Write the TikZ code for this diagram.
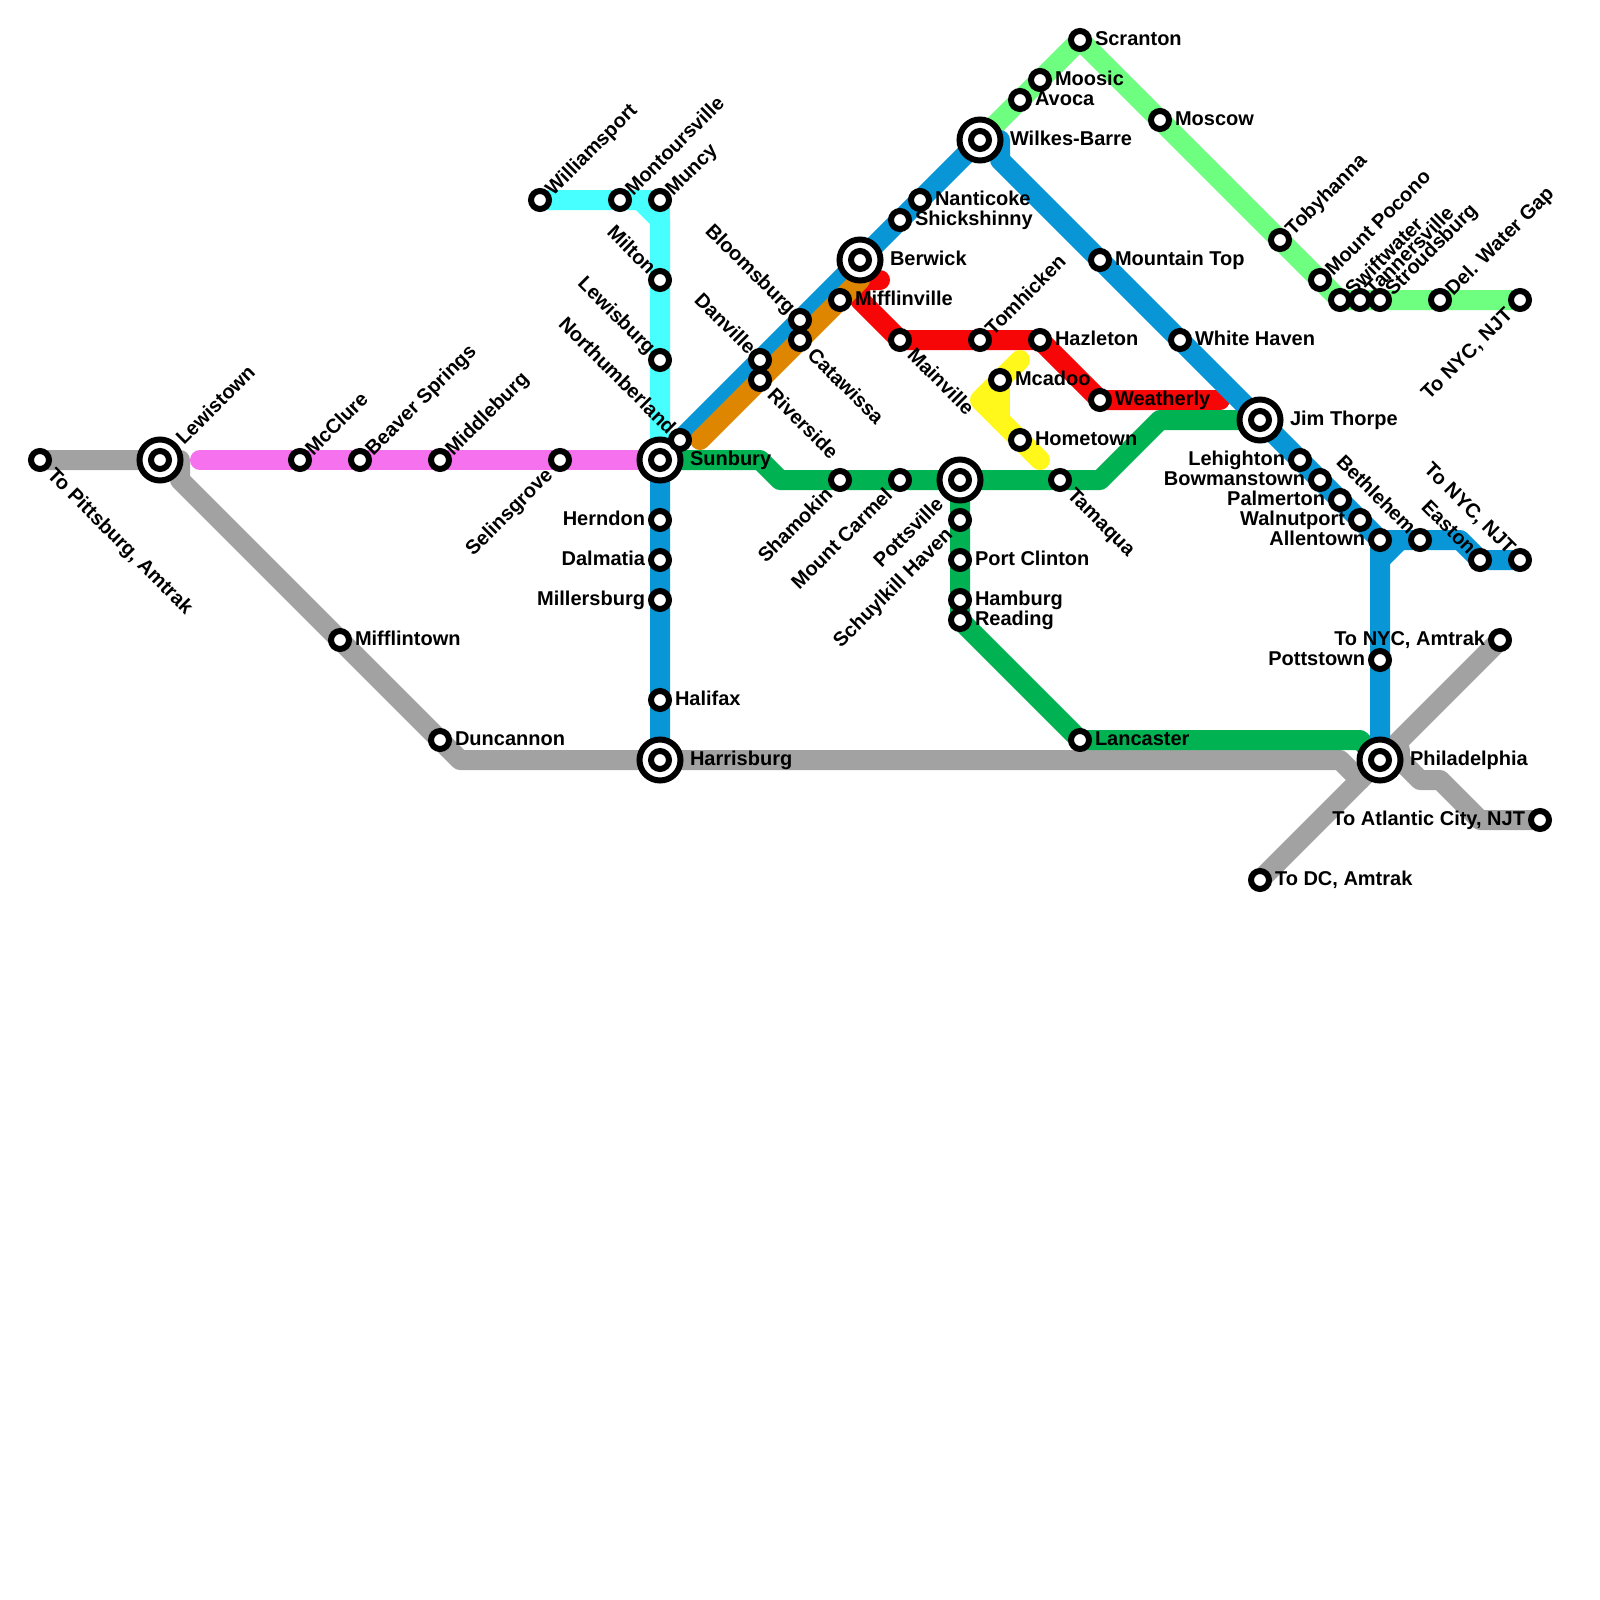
\documentclass[tikz,border=0pt]{standalone}
\usepackage{fontspec}
\setmainfont{Liberation Sans}
\pgfdeclarelayer{lines}
\pgfsetlayers{lines,main}
\definecolor{mgray}{HTML}{A2A2A2}
\definecolor{mpink}{HTML}{F571EE}
\definecolor{mcyan}{HTML}{47FFFF}
\definecolor{mred}{HTML}{F60606}
\definecolor{morange}{HTML}{DF8600}
\definecolor{myellow}{HTML}{FFF81A}
\definecolor{mlgreen}{HTML}{6EFF80}
\definecolor{mgreen}{HTML}{00B251}
\definecolor{mblue}{HTML}{0896D7}
\tikzset{
  x=1pt,y=-1pt,
  stn/.style={circle,draw=black,fill=white,line width=6pt,inner sep=0pt,minimum size=18pt},
  hub/.style={circle,draw=black,fill=white,line width=6pt,inner sep=0pt,minimum size=41pt,
    path picture={\draw[black,line width=6pt] (path picture bounding box.center) circle[radius=9pt];}},
  ln/.style={line width=20pt,line cap=round,line join=round},
  lab/.style={inner sep=0pt,outer sep=0pt,font=\fontsize{20}{20}\selectfont\bfseries,text=black},
  R/.style={lab,anchor=base west,xshift=15pt,yshift=-5.8pt},
  L/.style={lab,anchor=base east,xshift=-15pt,yshift=-5.8pt},
  UR/.style={lab,rotate=45,anchor=base west,xshift=12pt,yshift=-7pt},
  DR/.style={lab,rotate=-45,anchor=base west,xshift=16pt,yshift=-7pt},
  UL/.style={lab,rotate=-45,anchor=base east,xshift=-12pt,yshift=-5.5pt},
  LL/.style={lab,rotate=45,anchor=base east,xshift=-16pt,yshift=-7pt},
  HR/.style={lab,anchor=base west,xshift=30pt,yshift=-5.8pt},
  HUR/.style={lab,rotate=45,anchor=base west,xshift=27pt,yshift=-7pt},
  HLL/.style={lab,rotate=45,anchor=base east,xshift=-29pt,yshift=-7pt},
}
\newcommand{\St}[5]{\node[stn] (#1) at (#2,#3) {}; \node[#4] (#1-t) at (#1.center) {#5};}
\newcommand{\Hb}[5]{\node[hub] (#1) at (#2,#3) {}; \node[#4] (#1-t) at (#1.center) {#5};}
\begin{document}
\begin{tikzpicture}
\useasboundingbox (0,0) rectangle (1600,1600);
\begin{pgfonlayer}{lines}\fill[white] (0,0) rectangle (1600,1600);\end{pgfonlayer}
% interchanges
\Hb{lewistown}{160}{460}{HUR}{Lewistown}
\Hb{sunbury}{660}{460}{HR}{Sunbury}
\Hb{harrisburg}{660}{760}{HR}{Harrisburg}
\Hb{berwick}{860}{260}{HR}{Berwick}
\Hb{wilkes}{980}{140}{HR}{Wilkes-Barre}
\Hb{pottsville}{960}{480}{HLL}{Pottsville}
\Hb{jimthorpe}{1260}{420}{HR}{Jim Thorpe}
\Hb{phila}{1380}{760}{HR}{Philadelphia}
% stations
\St{pittsburg}{40}{460}{DR}{To Pittsburg, Amtrak}
\St{mcclure}{300}{460}{UR}{McClure}
\St{beaver}{360}{460}{UR}{Beaver Springs}
\St{middleburg}{440}{460}{UR}{Middleburg}
\St{selinsgrove}{560}{460}{LL}{Selinsgrove}
\St{mifflintown}{340}{640}{R}{Mifflintown}
\St{duncannon}{440}{740}{R}{Duncannon}
\St{williamsport}{540}{200}{UR}{Williamsport}
\St{montoursville}{620}{200}{UR}{Montoursville}
\St{muncy}{660}{200}{UR}{Muncy}
\St{milton}{660}{280}{UL}{Milton}
\St{lewisburg}{660}{360}{UL}{Lewisburg}
\St{northumberland}{680}{440}{UL}{Northumberland}
\St{herndon}{660}{520}{L}{Herndon}
\St{dalmatia}{660}{560}{L}{Dalmatia}
\St{millersburg}{660}{600}{L}{Millersburg}
\St{halifax}{660}{700}{R}{Halifax}
\St{danville}{760}{360}{UL}{Danville}
\St{riverside}{760}{380}{DR}{Riverside}
\St{bloomsburg}{800}{320}{UL}{Bloomsburg}
\St{catawissa}{800}{340}{DR}{Catawissa}
\St{mifflinville}{840}{300}{R}{Mifflinville}
\St{shickshinny}{900}{220}{R}{Shickshinny}
\St{nanticoke}{920}{200}{R}{Nanticoke}
\St{avoca}{1020}{100}{R}{Avoca}
\St{moosic}{1040}{80}{R}{Moosic}
\St{scranton}{1080}{40}{R}{Scranton}
\St{moscow}{1160}{120}{R}{Moscow}
\St{mountaintop}{1100}{260}{R}{Mountain Top}
\St{whitehaven}{1180}{340}{R}{White Haven}
\St{mainville}{900}{340}{DR}{Mainville}
\St{tomhicken}{980}{340}{UR}{Tomhicken}
\St{hazleton}{1040}{340}{R}{Hazleton}
\St{mcadoo}{1000}{380}{R}{Mcadoo}
\St{hometown}{1020}{440}{R}{Hometown}
\St{weatherly}{1100}{400}{R}{Weatherly}
\St{shamokin}{840}{480}{LL}{Shamokin}
\St{mountcarmel}{900}{480}{LL}{Mount Carmel}
\St{tamaqua}{1060}{480}{DR}{Tamaqua}
\St{schuylkill}{960}{520}{LL}{Schuylkill Haven}
\St{portclinton}{960}{560}{R}{Port Clinton}
\St{hamburg}{960}{600}{R}{Hamburg}
\St{reading}{960}{620}{R}{Reading}
\St{lancaster}{1080}{740}{R}{Lancaster}
\St{tobyhanna}{1280}{240}{UR}{Tobyhanna}
\St{mountpocono}{1320}{280}{UR}{Mount Pocono}
\St{swiftwater}{1340}{300}{UR}{Swiftwater}
\St{tannersville}{1360}{300}{UR}{Tannersville}
\St{stroudsburg}{1380}{300}{UR}{Stroudsburg}
\St{delwater}{1440}{300}{UR}{Del. Water Gap}
\St{nycnjtn}{1520}{300}{LL}{To NYC, NJT}
\St{lehighton}{1300}{460}{L}{Lehighton}
\St{bowmanstown}{1320}{480}{L}{Bowmanstown}
\St{palmerton}{1340}{500}{L}{Palmerton}
\St{walnutport}{1360}{520}{L}{Walnutport}
\St{allentown}{1380}{540}{L}{Allentown}
\St{bethlehem}{1420}{540}{UL}{Bethlehem}
\St{easton}{1480}{560}{UL}{Easton}
\St{nycnjts}{1520}{560}{UL}{To NYC, NJT}
\St{nycamtrak}{1500}{640}{L}{To NYC, Amtrak}
\St{pottstown}{1380}{660}{L}{Pottstown}
\St{atlantic}{1540}{820}{L}{To Atlantic City, NJT}
\St{dc}{1260}{880}{R}{To DC, Amtrak}
% bends
\coordinate (a1) at (180,460);
\coordinate (a2) at (180,480);
\coordinate (a3) at (460,760);
\coordinate (a4) at (1340,760);
\coordinate (a5) at (1360,780);
\coordinate (a6) at (1400,760);
\coordinate (a7) at (1420,780);
\coordinate (a8) at (1440,780);
\coordinate (a9) at (1480,820);
\coordinate (a10) at (1400,750);
\coordinate (p1) at (200,460);
\coordinate (c1) at (640,200);
\coordinate (c2) at (660,220);
\coordinate (r1) at (880,280);
\coordinate (r2) at (860,280);
\coordinate (r3) at (860,300);
\coordinate (r4) at (1220,400);
\coordinate (o1) at (700,440);
\coordinate (o2) at (860,280);
\coordinate (y1) at (1020,360);
\coordinate (y2) at (980,400);
\coordinate (y3) at (1040,460);
\coordinate (y4) at (1000,420);
\coordinate (g1) at (760,460);
\coordinate (g2) at (780,480);
\coordinate (g3) at (1100,480);
\coordinate (g4) at (1160,420);
\coordinate (g5) at (1360,740);
\coordinate (b1) at (1000,140);
\coordinate (b2) at (1000,160);
\coordinate (b3) at (1460,540);
\coordinate (b4) at (1380,560);
\coordinate (b5) at (1400,540);
\begin{pgfonlayer}{lines}
\draw[ln,mgray] (pittsburg.center) -- (a1) -- (a2) -- (a3) -- (a4) -- (a5);
\draw[ln,mgray] (dc.center) -- (nycamtrak.center);
\draw[ln,mgray] (phila.center) -- (a6) -- (a7) -- (a8) -- (a9) -- (atlantic.center);
\draw[ln,mgray] (a10) -- (a6);
\draw[ln,mpink] (p1) -- (sunbury.center);
\draw[ln,mcyan] (williamsport.center) -- (c1) -- (c2) -- (sunbury.center);
\draw[ln,mcyan] (c1) -- (muncy.center) -- (c2);
\draw[ln,mred] (r1) -- (r2) -- (r3) -- (mainville.center) -- (hazleton.center) -- (weatherly.center) -- (r4);
\draw[ln,myellow] (y1) -- (y2) -- (y3);
\draw[ln,myellow] (mcadoo.center) -- (y4);
\draw[ln,mlgreen] (wilkes.center) -- (scranton.center) -- (swiftwater.center) -- (nycnjtn.center);
\draw[ln,mgreen] (sunbury.center) -- (g1) -- (g2) -- (g3) -- (g4) -- (jimthorpe.center);
\draw[ln,mgreen] (pottsville.center) -- (reading.center) -- (lancaster.center) -- (g5) -- (phila.center);
\draw[ln,mblue] (harrisburg.center) -- (sunbury.center) -- (wilkes.center) -- (b1) -- (b2) -- (allentown.center) -- (b3) -- (easton.center) -- (nycnjts.center);
\draw[ln,mblue] (phila.center) -- (b4) -- (b5);
\draw[ln,mblue] (allentown.center) -- (b4);
\draw[ln,morange] (o1) -- (o2);
\end{pgfonlayer}
\end{tikzpicture}
\end{document}
